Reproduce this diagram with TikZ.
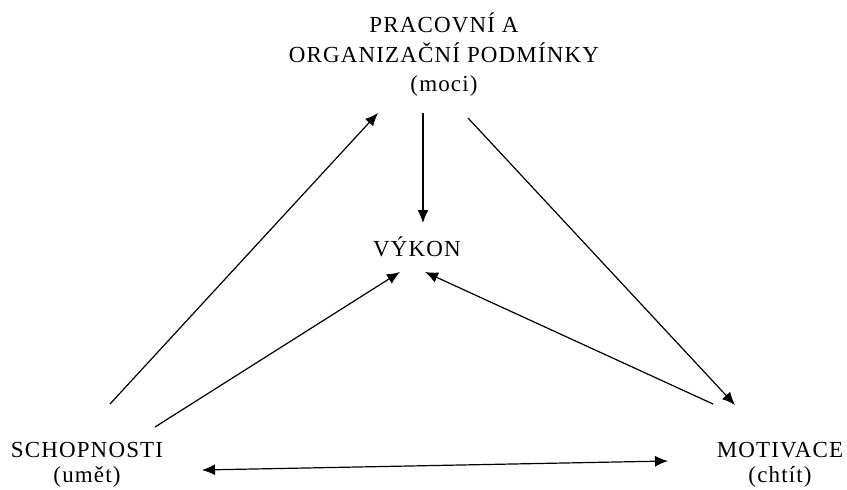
\documentclass[tikz,border=0pt]{standalone}
\usepackage{fontspec}
\setmainfont[LetterSpace=5]{Liberation Serif}
\usepackage{tikz}
\usetikzlibrary{arrows.meta}

\begin{document}
\begin{tikzpicture}[
    x=1pt,y=-1pt,
    every node/.style={font=\fontsize{23}{29.5}\selectfont},
    lbl/.style={align=center,inner sep=0pt},
    lowlbl/.style={lbl,font=\fontsize{23}{25.5}\selectfont},
    arr/.style={line width=1.2pt,-{Latex[length=13pt,width=11pt]}},
    darr/.style={line width=1.2pt,{Latex[length=13pt,width=11pt]}-{Latex[length=13pt,width=11pt]}},
]
\useasboundingbox[fill=white] (0,0) rectangle (847,490);
\node[lbl] (P) at (444,55)  {PRACOVNÍ A\\ORGANIZAČNÍ PODMÍNKY\\(moci)};
\node[lbl] (V) at (417,247) {VÝKON};
\node[lowlbl] (S) at (87,465)  {SCHOPNOSTI\\(umět)};
\node[lowlbl] (M) at (780,465) {MOTIVACE\\(chtít)};
\coordinate (P-l) at (378,113);
\coordinate (P-m) at (423,113);
\coordinate (P-r) at (468,118);
\coordinate (V-t) at (423,223);
\coordinate (V-l) at (400,272);
\coordinate (V-r) at (425,272);
\coordinate (S-u) at (110,404);
\coordinate (S-v) at (155,427);
\coordinate (S-r) at (202,470);
\coordinate (M-u) at (735,405);
\coordinate (M-v) at (713,404);
\coordinate (M-l) at (668,461);
\draw[arr] (S-u) -- (P-l);
\draw[arr] (P-m) -- (V-t);
\draw[arr] (P-r) -- (M-u);
\draw[arr] (S-v) -- (V-l);
\draw[arr] (M-v) -- (V-r);
\draw[darr] (S-r) -- (M-l);
\end{tikzpicture}
\end{document}
